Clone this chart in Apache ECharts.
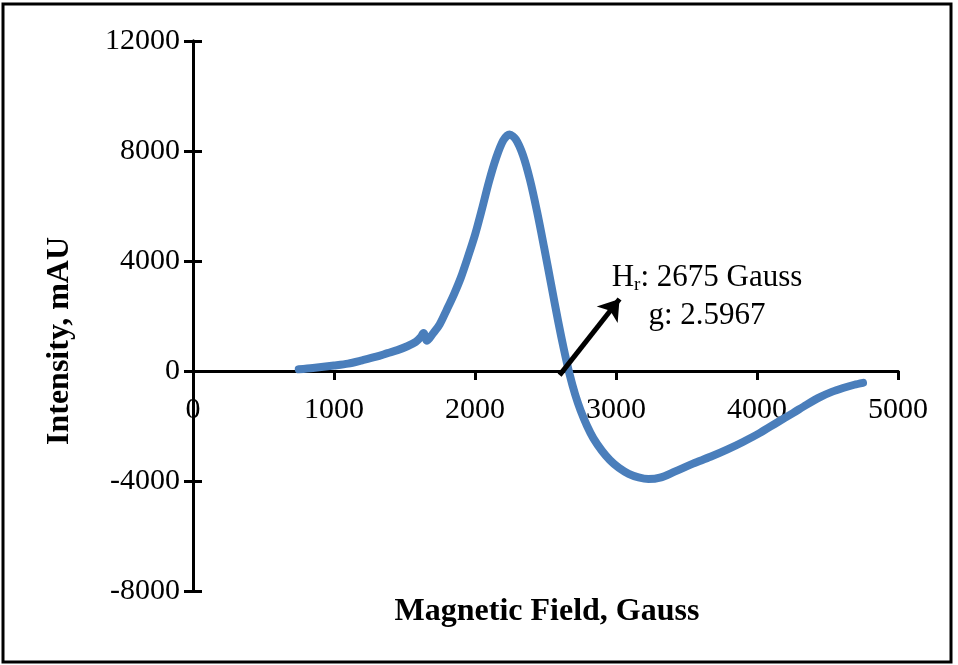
<!DOCTYPE html>
<html>
<head>
<meta charset="utf-8">
<script src="https://cdn.jsdelivr.net/npm/echarts@6/dist/echarts.min.js"></script>
<style>
html,body{margin:0;padding:0;background:#fff;}
#chart{width:958px;height:665px;}
</style>
</head>
<body>
<div id="chart"></div>
<script>
// Data
var fieldGauss = [750, 850, 1000, 1100, 1200, 1300, 1380, 1450, 1520, 1580, 1615, 1635, 1660, 1700, 1750, 1800, 1850, 1900, 1950, 2000, 2050, 2100, 2150, 2200, 2245, 2290, 2340, 2390, 2440, 2490, 2540, 2590, 2630, 2670, 2710, 2750, 2795, 2840, 2900, 2957, 3020, 3090, 3160, 3230, 3312, 3420, 3546, 3670, 3787, 3900, 4021, 4140, 4255, 4350, 4447, 4530, 4610, 4690, 4752];
var intensity  = [60, 110, 200, 270, 390, 520, 650, 760, 900, 1060, 1230, 1380, 1100, 1350, 1700, 2230, 2780, 3400, 4150, 4950, 5900, 6900, 7750, 8380, 8600, 8420, 7850, 6950, 5800, 4500, 3150, 1800, 800, -100, -850, -1450, -2000, -2450, -2900, -3240, -3520, -3740, -3870, -3930, -3880, -3650, -3370, -3120, -2860, -2580, -2250, -1880, -1530, -1230, -950, -760, -620, -500, -430];
var xTicks = [0, 1000, 2000, 3000, 4000, 5000];
var yTicks = [-8000, -4000, 0, 4000, 8000, 12000];
var arrowFrom = [2600, -150];
var arrowTo = [3025, 2620];
var xTitle = 'Magnetic Field, Gauss';
var yTitle = 'Intensity, mAU';

var chart = echarts.init(document.getElementById('chart'), null, {renderer: 'canvas'});
var serif = '"Liberation Serif", "Times New Roman", serif';
var lineData = fieldGauss.map(function (x, i) { return [x, intensity[i]]; });
var numFmt = function (v) { return String(v); };

function axisCommon(ticks) {
  return {
    type: 'value',
    min: ticks[0],
    max: ticks[ticks.length - 1],
    interval: ticks[1] - ticks[0],
    splitLine: {show: false},
    axisLine: {show: true, onZero: true, lineStyle: {color: '#000', width: 3}},
    axisTick: {show: true, length: 9, lineStyle: {color: '#000', width: 3}},
    axisLabel: {show: false}
  };
}

var xMain = axisCommon(xTicks);
var xInner = axisCommon(xTicks);
xInner.axisTick.inside = true;
var xLabels = axisCommon(xTicks);
xLabels.position = 'bottom';
xLabels.offset = -220;
xLabels.axisLine = {show: false, onZero: false};
xLabels.axisTick = {show: false};
xLabels.axisLabel = {show: true, margin: 24, fontFamily: serif, fontSize: 30, color: '#000', formatter: numFmt};

var yMain = axisCommon(yTicks);
yMain.axisLabel = {show: true, margin: 13, fontFamily: serif, fontSize: 30, color: '#000', formatter: numFmt};
var yInner = axisCommon(yTicks);
yInner.axisTick.inside = true;
yInner.position = 'left';

chart.setOption({
  animation: false,
  backgroundColor: '#fff',
  grid: {left: 193, right: 60, top: 41, bottom: 74, containLabel: false},
  xAxis: [xMain, xInner, xLabels],
  yAxis: [yMain, yInner],
  series: [{
    type: 'line',
    data: lineData,
    xAxisIndex: 0,
    yAxisIndex: 0,
    showSymbol: false,
    smooth: 0.3,
    lineStyle: {color: '#4A7EBB', width: 8, cap: 'round', join: 'round'},
    silent: true,
    markLine: {
      silent: true,
      symbol: ['none', 'arrow'],
      symbolSize: 20,
      label: {show: false},
      lineStyle: {color: '#000', width: 5, type: 'solid'},
      data: [[{coord: arrowFrom}, {coord: arrowTo}]]
    }
  }],
  graphic: [
    {type: 'rect', shape: {x: 3, y: 4, width: 948, height: 658}, style: {fill: 'none', stroke: '#000', lineWidth: 3}, z: 100},
    {type: 'text', x: 547, y: 596, style: {text: xTitle, align: 'center', verticalAlign: 'top', font: 'bold 32px ' + serif, fill: '#000'}},
    {type: 'text', x: 60, y: 341, rotation: Math.PI / 2, style: {text: yTitle, align: 'center', verticalAlign: 'middle', font: 'bold 32px ' + serif, fill: '#000'}},
    {type: 'text', x: 707, y: 259, style: {
      text: '{h|H}{sub|r}{t|: 2675 Gauss}\n{t|g: 2.5967}',
      align: 'center', verticalAlign: 'top',
      rich: {
        h: {fontFamily: serif, fontSize: 31, lineHeight: 38, fill: '#000'},
        sub: {fontFamily: serif, fontSize: 19, lineHeight: 38, fill: '#000', padding: [14, 0, 0, 0]},
        t: {fontFamily: serif, fontSize: 31, lineHeight: 38, fill: '#000'}
      }
    }}
  ]
});
</script>
</body>
</html>
